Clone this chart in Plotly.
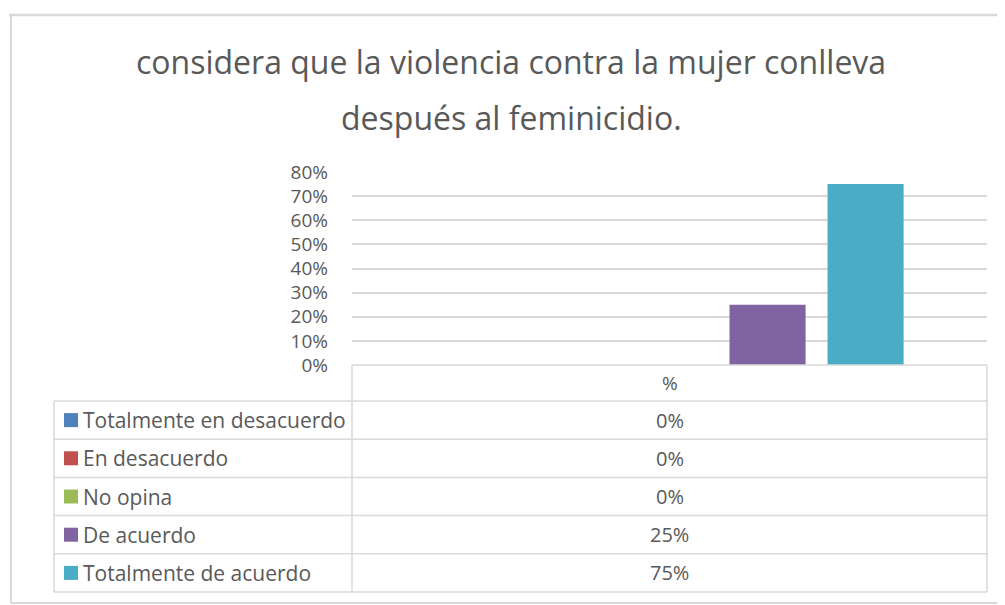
"""Excel-style column chart with data table: violencia contra la mujer / feminicidio."""

import plotly.graph_objects as go

# ---- data ----------------------------------------------------------------
TITLE_LINES = [
    "considera que la violencia contra la mujer conlleva",
    "después al feminicidio.",
]
CATEGORY = "%"
SERIES = [
    "Totalmente en desacuerdo",
    "En desacuerdo",
    "No opina",
    "De acuerdo",
    "Totalmente de acuerdo",
]
VALUES = [0.0, 0.0, 0.0, 0.25, 0.75]
Y_TICKS = [0.0, 0.1, 0.2, 0.3, 0.4, 0.5, 0.6, 0.7, 0.8]

# ---- style ---------------------------------------------------------------
COLORS = ["#4F81BD", "#C0504D", "#9BBB59", "#8064A2", "#4BACC6"]
TEXT = "#595959"
LINE = "#D9D9D9"
FONT = "Open Sans, sans-serif"

W, H = 1005, 605
PAGE_OFFSET = 8  # body margin of the html page


def px(x):
    return (x - PAGE_OFFSET) / W


def py(y):
    return 1 - (y - PAGE_OFFSET) / H


# plot area & table geometry, in screen pixels
PLOT_L, PLOT_R = 352, 987
PLOT_T, PLOT_B = 172, 365
HEAD_B = 401
ROW_H = 38.2
TABLE_L = 54

fig = go.Figure()
for name, val, col in zip(SERIES, VALUES, COLORS):
    fig.add_trace(go.Bar(
        x=[CATEGORY], y=[val], name=name,
        marker=dict(color=col, line_width=0),
        hovertemplate=f"{name}: %{{y:.0%}}<extra></extra>",
    ))

shapes = []


def hline(x0, x1, y, width=1.5):
    shapes.append(dict(type="line", xref="paper", yref="paper",
                       x0=px(x0), x1=px(x1), y0=py(y), y1=py(y),
                       line=dict(color=LINE, width=width)))


def vline(x, y0, y1, width=1.5):
    shapes.append(dict(type="line", xref="paper", yref="paper",
                       x0=px(x), x1=px(x), y0=py(y0), y1=py(y1),
                       line=dict(color=LINE, width=width)))


# outer chart border (runs off the right edge)
hline(9, W + PAGE_OFFSET, 15, width=2.5)
vline(11, 15, 603, width=2)
hline(11, W + PAGE_OFFSET, 603, width=2)

# data table grid
n = len(SERIES)
table_bottom = HEAD_B + n * ROW_H
hline(PLOT_L, PLOT_R, PLOT_B)
hline(TABLE_L, PLOT_R, HEAD_B)
for i in range(1, n + 1):
    hline(TABLE_L, PLOT_R, HEAD_B + i * ROW_H)
vline(TABLE_L, HEAD_B, table_bottom)
vline(PLOT_L, PLOT_B, table_bottom)
vline(PLOT_R, PLOT_B, table_bottom)

annotations = []
# title
for text, yc in zip(TITLE_LINES, [62, 117]):
    annotations.append(dict(text=text, xref="paper", yref="paper",
                            x=px(511), y=py(yc), xanchor="center", yanchor="middle",
                            showarrow=False, font=dict(family=FONT, size=32, color=TEXT)))

# header cell
annotations.append(dict(text=CATEGORY, xref="paper", yref="paper",
                        x=px((PLOT_L + PLOT_R) / 2), y=py((PLOT_B + HEAD_B) / 2),
                        xanchor="center", yanchor="middle", showarrow=False,
                        font=dict(family=FONT, size=19, color=TEXT)))

# rows: legend key + label + value
for i, (name, val, col) in enumerate(zip(SERIES, VALUES, COLORS)):
    yc = HEAD_B + (i + 0.5) * ROW_H
    shapes.append(dict(type="rect", xref="paper", yref="paper",
                       x0=px(64), x1=px(78), y0=py(yc - 7), y1=py(yc + 7),
                       fillcolor=col, line_width=0))
    annotations.append(dict(text=name, xref="paper", yref="paper",
                            x=px(81), y=py(yc), xanchor="left", yanchor="middle",
                            showarrow=False, font=dict(family=FONT, size=21, color=TEXT)))
    annotations.append(dict(text=f"{val:.0%}", xref="paper", yref="paper",
                            x=px((PLOT_L + PLOT_R) / 2), y=py(yc),
                            xanchor="center", yanchor="middle", showarrow=False,
                            font=dict(family=FONT, size=20, color=TEXT)))

fig.update_layout(
    width=W, height=H,
    autosize=False,
    paper_bgcolor="white", plot_bgcolor="white",
    margin=dict(l=0, r=0, t=0, b=0, pad=0, autoexpand=False),
    showlegend=False,
    barmode="group",
    bargap=0.228,
    bargroupgap=0.224,
    font=dict(family=FONT, color=TEXT),
    xaxis=dict(domain=[px(PLOT_L), px(PLOT_R)], range=[-0.5, 0.5],
               showticklabels=False, showgrid=False, zeroline=False,
               showline=False, fixedrange=True, automargin=False),
    yaxis=dict(domain=[py(PLOT_B), py(PLOT_T)], range=[0, 0.8],
               tickvals=Y_TICKS, tickformat=".0%",
               tickfont=dict(family=FONT, size=19, color=TEXT),
               ticklabelstandoff=23,
               showgrid=True, gridcolor=LINE, gridwidth=1.5,
               zeroline=False, showline=False, fixedrange=True, automargin=False),
    shapes=shapes,
    annotations=annotations,
)

fig.write_html("out.html")
